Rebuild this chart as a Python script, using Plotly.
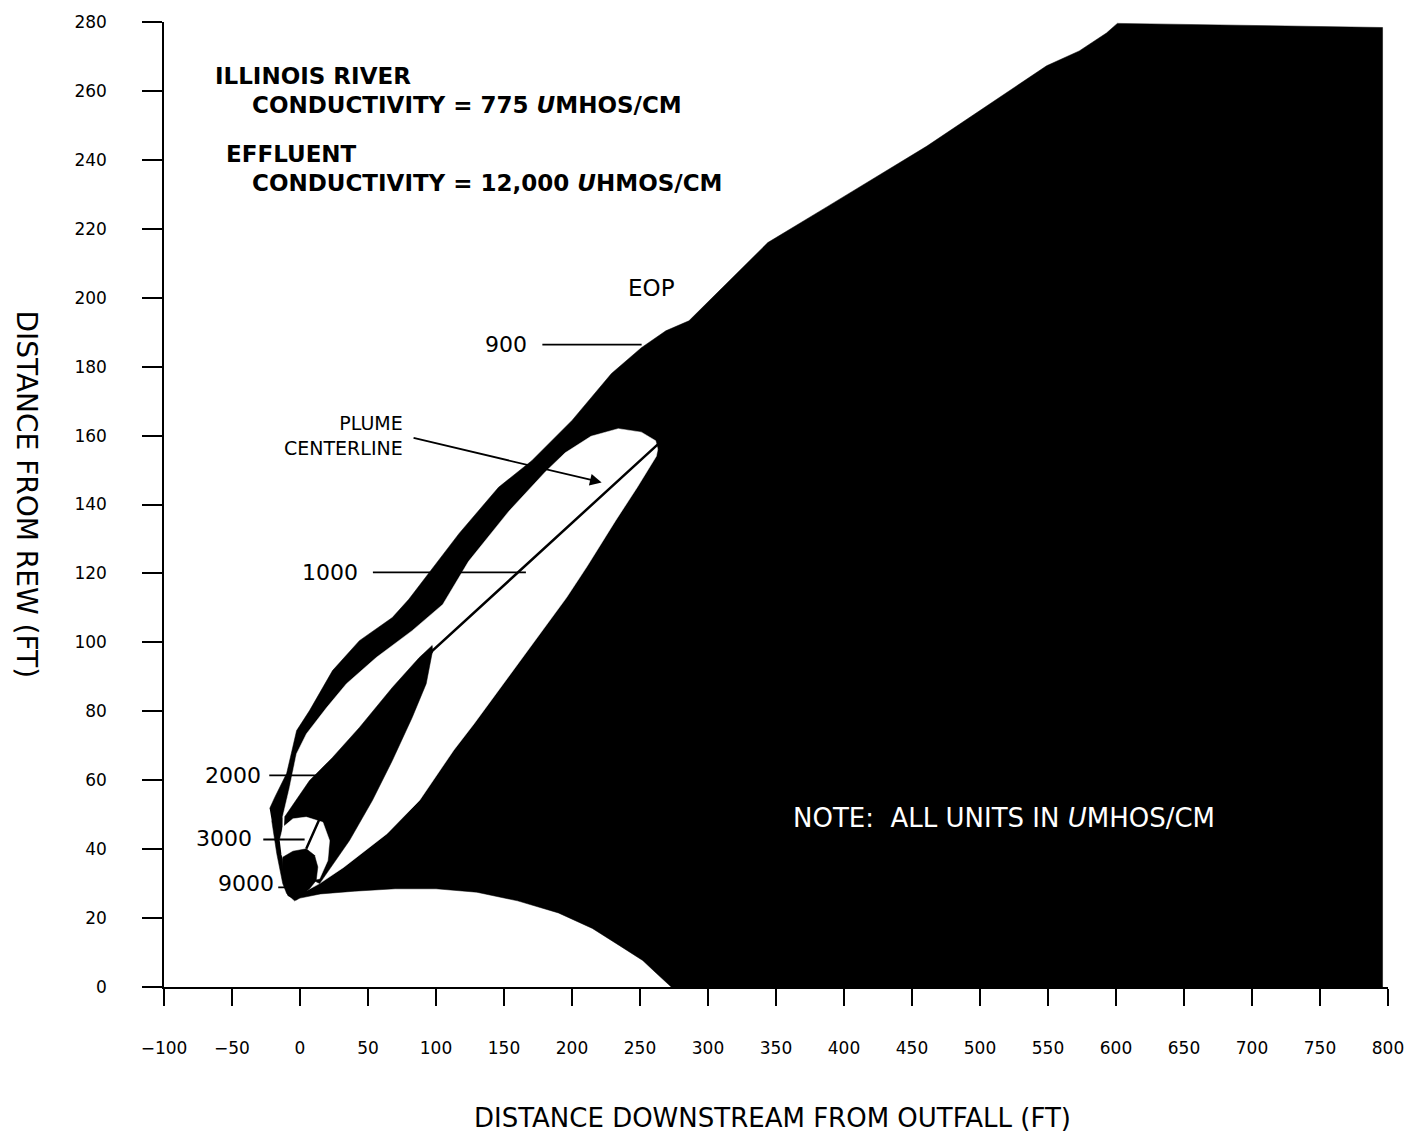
import plotly.graph_objects as go

# ---------------- data (feet) ----------------
# 900 umhos/cm region bounded by the edge of plume (EOP)
eop900_x = [-22.3, -18.6, -9.8, -2.5, 7.0, 23.9, 43.7, 67.9, 80.0, 117.0, 146.0, 170.4, 200.0,
            229.0, 251.0, 269.0, 286.0, 344.0, 388.0, 461.0, 549.0, 573.0, 593.0, 601.0, 700.0,
            796.0, 796.0, 273.0, 262.0, 252.0, 235.0, 215.0, 190.0, 160.0, 130.0, 100.0, 70.0,
            40.0, 15.0, 0.0, -4.0, -9.8, -12.7, -17.1, -20.8]
eop900_y = [51.8, 55.0, 62.0, 74.4, 80.2, 91.8, 100.5, 107.2, 112.5, 131.6, 145.0, 152.7, 164.4,
            178.0, 185.5, 190.4, 193.3, 216.0, 226.5, 244.0, 267.3, 271.6, 276.8, 279.6, 279.0,
            278.4, 0.0, 0.0, 4.0, 7.7, 12.0, 17.0, 21.5, 25.0, 27.5, 28.5, 28.5,
            27.8, 27.0, 25.8, 25.0, 27.1, 30.0, 38.7, 48.3]

# 1000 umhos/cm region
c1000_x = [-12.8, -7.6, -2.5, 4.8, 19.5, 34.2, 56.1, 82.5, 105.0, 124.0, 153.5, 180.5, 195.0,
           214.0, 234.0, 251.0, 261.5, 263.0, 262.0, 248.0, 232.0, 211.0, 196.0, 128.0, 113.0,
           88.0, 64.0, 32.0, 14.4, 5.0, -5.0, -12.0, -13.0]
c1000_y = [49.2, 57.9, 67.7, 73.5, 81.0, 88.0, 95.6, 103.4, 111.0, 123.5, 138.0, 149.5, 155.0,
           159.8, 162.0, 161.0, 158.5, 156.0, 154.0, 145.0, 135.3, 122.0, 113.0, 76.4, 68.7,
           54.2, 44.5, 34.7, 30.0, 28.0, 28.0, 33.0, 42.0]

# 2000 umhos/cm region
c2000_x = [-11.4, 7.0, 23.9, 43.7, 67.9, 87.7, 97.2, 97.5, 92.8, 82.5, 67.9, 53.2, 36.4, 19.5,
           14.4, 5.0, -8.0, -12.0]
c2000_y = [49.3, 59.9, 66.6, 75.3, 86.9, 95.6, 99.1, 97.6, 88.0, 78.2, 65.7, 54.1, 42.5, 32.9,
           30.0, 32.0, 38.0, 44.0]

# 3000 umhos/cm region
c3000_x = [-14.9, -12.5, -5.2, 4.6, 16.8, 21.7, 20.4, 14.4, 8.0, 0.0, -10.0, -13.7]
c3000_y = [42.5, 46.4, 48.8, 49.3, 47.8, 42.5, 36.7, 31.4, 31.0, 33.0, 35.0, 38.6]

# 9000 umhos/cm region
c9000_x = [-13.0, -12.5, -5.2, 4.6, 10.7, 13.1, 11.9, 7.0, -2.7, -8.9, -12.0]
c9000_y = [34.8, 37.7, 39.4, 40.1, 38.2, 34.8, 30.9, 28.5, 25.3, 26.5, 30.9]

# plume centerline
centerline_x = [4.6, 14.4, 97.5, 263.5]
centerline_y = [40.1, 48.8, 97.6, 157.6]

x_ticks = list(range(-100, 801, 50))
y_ticks = list(range(0, 281, 20))

FONT = "DejaVu Sans"

fig = go.Figure()

layers = [
    (eop900_x, eop900_y, "black"),
    (c1000_x, c1000_y, "white"),
    (c2000_x, c2000_y, "black"),
    (c3000_x, c3000_y, "white"),
    (c9000_x, c9000_y, "black"),
]
for xs, ys, col in layers:
    fig.add_trace(go.Scatter(x=xs, y=ys, mode="lines", fill="toself", fillcolor=col,
                             line=dict(width=0.5, color=col), hoverinfo="skip",
                             showlegend=False))

fig.add_trace(go.Scatter(x=centerline_x, y=centerline_y, mode="lines",
                         line=dict(color="black", width=2.5), hoverinfo="skip",
                         showlegend=False))

annotations = []

# free text blocks
texts = [
    ("<b>ILLINOIS RIVER</b>", -64.1, 264.3, "left", 23, "black"),
    ("<b>CONDUCTIVITY = 775 <i>U</i>MHOS/CM</b>", -37.0, 256.0, "left", 23, "black"),
    ("<b>EFFLUENT</b>", -56.0, 241.7, "left", 23, "black"),
    ("<b>CONDUCTIVITY = 12,000 <i>U</i>HMOS/CM</b>", -37.0, 233.3, "left", 23, "black"),
    ("EOP", 258.4, 202.9, "center", 23, "black"),
    ("900", 151.4, 186.4, "center", 22, "black"),
    ("1000", 21.7, 120.3, "center", 22, "black"),
    ("2000", -49.4, 61.4, "center", 22, "black"),
    ("3000", -56.0, 43.2, "center", 22, "black"),
    ("9000", -39.9, 29.9, "center", 22, "black"),
    ("NOTE:\u00a0\u00a0ALL UNITS IN <i>U</i>MHOS/CM", 361.0, 49.0, "left", 26, "white"),
]
for t, x, y, xa, sz, col in texts:
    annotations.append(dict(text=t, x=x, y=y, xref="x", yref="y", xanchor=xa,
                            yanchor="middle", showarrow=False,
                            font=dict(family=FONT, size=sz, color=col)))

annotations.append(dict(text="PLUME<br>CENTERLINE", x=77.5, y=160.0, xref="x", yref="y",
                        xanchor="right", yanchor="middle", align="right", showarrow=False,
                        font=dict(family=FONT, size=19, color="black")))

# leader lines: (tail x, tail y, tip x, tip y, arrowhead)
leaders = [
    (177.1, 186.4, 251.2, 186.4, 0),
    (52.5, 120.3, 166.1, 120.3, 0),
    (-23.7, 61.4, 16.6, 61.4, 0),
    (-28.1, 42.8, 3.4, 42.8, 0),
    (-17.1, 28.9, -9.1, 28.9, 0),
    (82.4, 159.4, 221.8, 146.4, 2),
]
for ax_, ay_, x_, y_, head in leaders:
    annotations.append(dict(text="", x=x_, y=y_, ax=ax_, ay=ay_, xref="x", yref="y",
                            axref="x", ayref="y", showarrow=True, arrowhead=head,
                            arrowsize=1.3, arrowwidth=1.8, arrowcolor="black"))

# axis titles
annotations.append(dict(text="DISTANCE DOWNSTREAM FROM OUTFALL (FT)", x=0.497, y=-0.136,
                        xref="paper", yref="paper", xanchor="center", yanchor="middle",
                        showarrow=False, font=dict(family=FONT, size=26, color="black")))
annotations.append(dict(text="DISTANCE FROM REW (FT)", x=-0.1124, y=0.51, xref="paper",
                        yref="paper", xanchor="center", yanchor="middle", textangle=90,
                        showarrow=False, font=dict(family=FONT, size=28, color="black")))

fig.update_layout(
    width=1416, height=1135,
    margin=dict(l=164, r=24, t=21, b=148),
    paper_bgcolor="white", plot_bgcolor="white",
    showlegend=False,
    annotations=annotations,
    xaxis=dict(range=[-100, 800], tickvals=x_ticks, ticks="outside", ticklen=17,
               tickwidth=2, tickcolor="black", showline=True, linewidth=2,
               linecolor="black", showgrid=False, zeroline=False, ticklabelstandoff=28,
               tickfont=dict(family=FONT, size=17, color="black")),
    yaxis=dict(range=[0, 280], tickvals=y_ticks, ticks="outside", ticklen=20,
               tickwidth=1.5, tickcolor="black", showline=True, linewidth=1.5,
               linecolor="black", showgrid=False, zeroline=False, ticklabelstandoff=32,
               tickfont=dict(family=FONT, size=17, color="black")),
)

fig.write_html("out.html", config={"displayModeBar": False},
               post_script="document.body.style.margin='0';")
